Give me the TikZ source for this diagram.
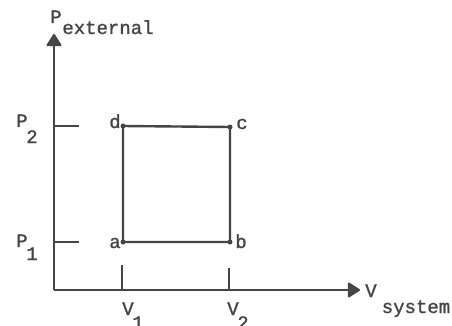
\documentclass[tikz,border=0pt]{standalone}
\usepackage{fontspec}
\setmonofont[FakeBold=1.2,AutoFakeBold=1.2]{Liberation Mono}
\usetikzlibrary{arrows.meta}
\definecolor{ink}{HTML}{454545}
\begin{document}
\begin{tikzpicture}[x=1pt,y=-1pt,
  axis/.style={line width=2pt, draw=ink, -{Triangle[width=16pt,length=13pt,round]}},
  tick/.style={line width=2pt, draw=ink},
  cycle/.style={line width=2.4pt, draw=ink, line join=round},
  dot/.style={circle, fill=ink, inner sep=0pt, minimum size=5pt},
  lbl/.style={font=\ttfamily\bfseries\fontsize{19}{19}\selectfont, text=ink, inner sep=0pt, anchor=base}]
\useasboundingbox (0,0) rectangle (452,326);
\fill[white] (0,0) rectangle (452,326);
% axes
\coordinate (O) at (54,290);
\coordinate (ytop) at (54,34);
\coordinate (xend) at (360,290);
\draw[axis] (O) -- (ytop);
\draw[axis] (O) -- (xend);
% ticks
\coordinate (p2a) at (54,126);  \coordinate (p2b) at (79,126);
\coordinate (p1a) at (54,242);  \coordinate (p1b) at (79,242);
\coordinate (v1a) at (122,290); \coordinate (v1b) at (122,265);
\coordinate (v2a) at (229,290); \coordinate (v2b) at (229,268);
\draw[tick] (p2a) -- (p2b);
\draw[tick] (p1a) -- (p1b);
\draw[tick] (v1a) -- (v1b);
\draw[tick] (v2a) -- (v2b);
% cycle
\node[dot] (a) at (123,242) {};
\node[dot] (b) at (230,242) {};
\node[dot] (c) at (230,127) {};
\node[dot] (d) at (123,126) {};
\draw[cycle] (a.center) -- (b.center) -- (c.center) -- (d.center) -- cycle;
% point labels
\node[lbl] (la) at (115,248) {a};
\node[lbl] (lb) at (241,248) {b};
\node[lbl] (lc) at (242,129) {c};
\node[lbl] (ld) at (115,128) {d};
% axis value labels
\node[lbl] (P2) at (22,127) {P};
\node[lbl] (P2s) at (32,143) {2};
\node[lbl] (P1) at (22,247) {P};
\node[lbl] (P1s) at (32,260) {1};
\node[lbl] (V1) at (128,315) {V};
\node[lbl] (V1s) at (138,329) {1};
\node[lbl] (V2) at (233,315) {V};
\node[lbl] (V2s) at (243,329) {2};
% axis titles
\node[lbl] (Pe) at (56,23) {P};
\node[lbl] (Pes) at (108,34) {external};
\node[lbl] (Vs) at (371,297) {V};
\node[lbl] (Vss) at (416,313) {system};
\end{tikzpicture}
\end{document}
